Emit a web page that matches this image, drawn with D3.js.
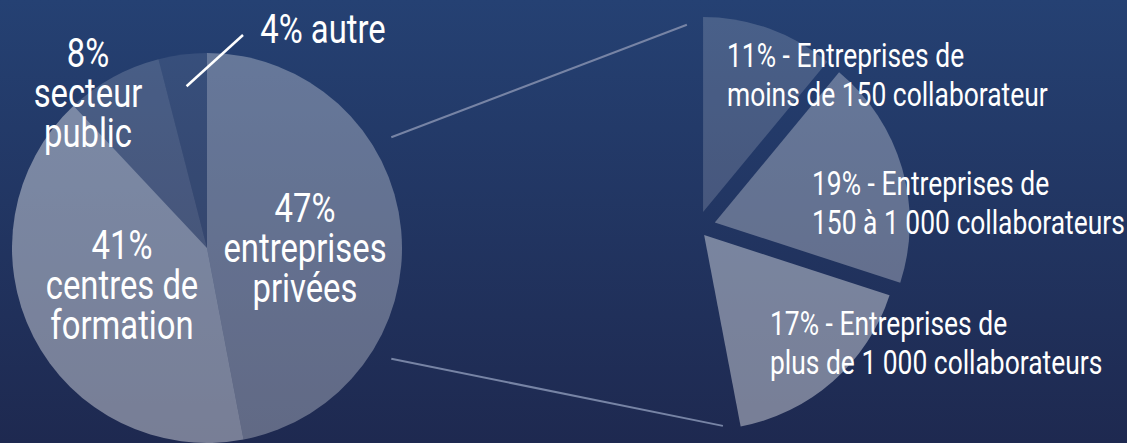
<!DOCTYPE html>
<html>
<head>
<meta charset="utf-8">
<script src="https://cdn.jsdelivr.net/npm/d3@7"></script>
<style>
  html, body { margin: 0; padding: 0; overflow: hidden; }
  svg { display: block; }
  text { font-family: Roboto, "Open Sans", sans-serif; fill: #fff; }
</style>
</head>
<body>
<div class="chart"></div>
<script>
/* data for main pie */
const mainValues = [47, 41, 8, 4];
const mainNames = [["entreprises", "privées"], ["centres de", "formation"], ["secteur", "public"], ["autre"]];

/* data for the split of "entreprises privées" */
const subValues = [11, 19, 17];
const subNames = ["moins de 150 collaborateur", "150 à 1 000 collaborateurs", "plus de 1 000 collaborateurs"];

/* layout */
const width = 1127, height = 443;
const radius = 195;
const mainCenter = [207, 248];
const subCenter = [697.5, 227.5];
const subExplode = [16.5, 18, 10];            // px each sub-slice is pushed out
const mainOpacity = [0.30, 0.40, 0.17, 0.09];  // white veil over the background
const subOpacity = [0.17, 0.30, 0.40];
// label anchors: [x, first baseline]
const mainLabelPos = [[305, 222], [122, 259], [88, 67], [323, 43]];
const subLabelPos = [[727, 67], [812, 195], [770, 335]];
const lineGap = 40, subLineGap = 39;
const squeeze = 0.8; // no condensed face installed, so narrow the glyphs by hand

const svg = d3.select(".chart").append("svg")
    .attr("width", width)
    .attr("height", height);

// background gradient
const grad = svg.append("defs").append("linearGradient")
    .attr("id", "bg").attr("x1", 0).attr("y1", 0).attr("x2", 0).attr("y2", 1);
grad.append("stop").attr("offset", "0%").attr("stop-color", "#254173");
grad.append("stop").attr("offset", "100%").attr("stop-color", "#1e2950");
svg.append("rect").attr("width", width).attr("height", height).attr("fill", "url(#bg)");

const arc = d3.arc().innerRadius(0).outerRadius(radius);

/* main pie, clockwise from 12 o'clock */
const mainPie = d3.pie().sort(null)(mainValues);
const gMain = svg.append("g").attr("transform", `translate(${mainCenter})`);
gMain.selectAll("path")
    .data(mainPie)
    .enter()
    .append("path")
    .attr("d", arc)
    .attr("fill", "#fff")
    .attr("fill-opacity", (d, i) => mainOpacity[i]);

/* sub pie: same angular share as the private slice, exploded */
const subPie = d3.pie().sort(null)
    .startAngle(0)
    .endAngle(2 * Math.PI * d3.sum(subValues) / 100)(subValues);
const gSub = svg.append("g").attr("transform", `translate(${subCenter})`);
gSub.selectAll("path")
    .data(subPie)
    .enter()
    .append("path")
    .attr("d", arc)
    .attr("fill", "#fff")
    .attr("fill-opacity", (d, i) => subOpacity[i])
    .attr("transform", (d, i) => {
        const mid = (d.startAngle + d.endAngle) / 2;
        return `translate(${subExplode[i] * Math.sin(mid)},${-subExplode[i] * Math.cos(mid)})`;
    });

/* connector lines between the two pies */
const polar = (c, r, deg) => [c[0] + r * Math.sin(deg * Math.PI / 180), c[1] - r * Math.cos(deg * Math.PI / 180)];
const connectors = [
    [polar(mainCenter, 215, 59), polar(subCenter, 203, -3)],
    [polar(mainCenter, 215, 121), polar(subCenter, 200, 172.7)]
];
svg.selectAll("line.connector")
    .data(connectors)
    .enter()
    .append("line")
    .attr("class", "connector")
    .attr("x1", d => d[0][0]).attr("y1", d => d[0][1])
    .attr("x2", d => d[1][0]).attr("y2", d => d[1][1])
    .attr("stroke", "#7784a5")
    .attr("stroke-width", 2);

/* leader for the small "autre" slice */
const autre = mainPie[3];
const autreStart = polar(mainCenter, 163, (autre.startAngle + autre.endAngle) / 2 * 180 / Math.PI);
svg.append("line")
    .attr("x1", autreStart[0]).attr("y1", autreStart[1])
    .attr("x2", 243).attr("y2", 35)
    .attr("stroke", "#fff")
    .attr("stroke-width", 2.5);

// one squeezed line of text
function addLine(x, y, s, size, anchor) {
    svg.append("text")
        .attr("transform", `translate(${x},${y}) scale(${squeeze},1)`)
        .attr("text-anchor", anchor)
        .attr("font-size", size)
        .text(s);
}

/* main labels */
mainValues.forEach((v, i) => {
    const lines = i === 3 ? [`${v}% ${mainNames[i][0]}`] : [`${v}%`, ...mainNames[i]];
    lines.forEach((s, k) => addLine(mainLabelPos[i][0], mainLabelPos[i][1] + k * lineGap, s, 41, "middle"));
});

/* sub labels */
subValues.forEach((v, i) => {
    [`${v}% - Entreprises de`, subNames[i]].forEach((s, k) =>
        addLine(subLabelPos[i][0], subLabelPos[i][1] + k * subLineGap, s, 33, "start"));
});
</script>
</body>
</html>
